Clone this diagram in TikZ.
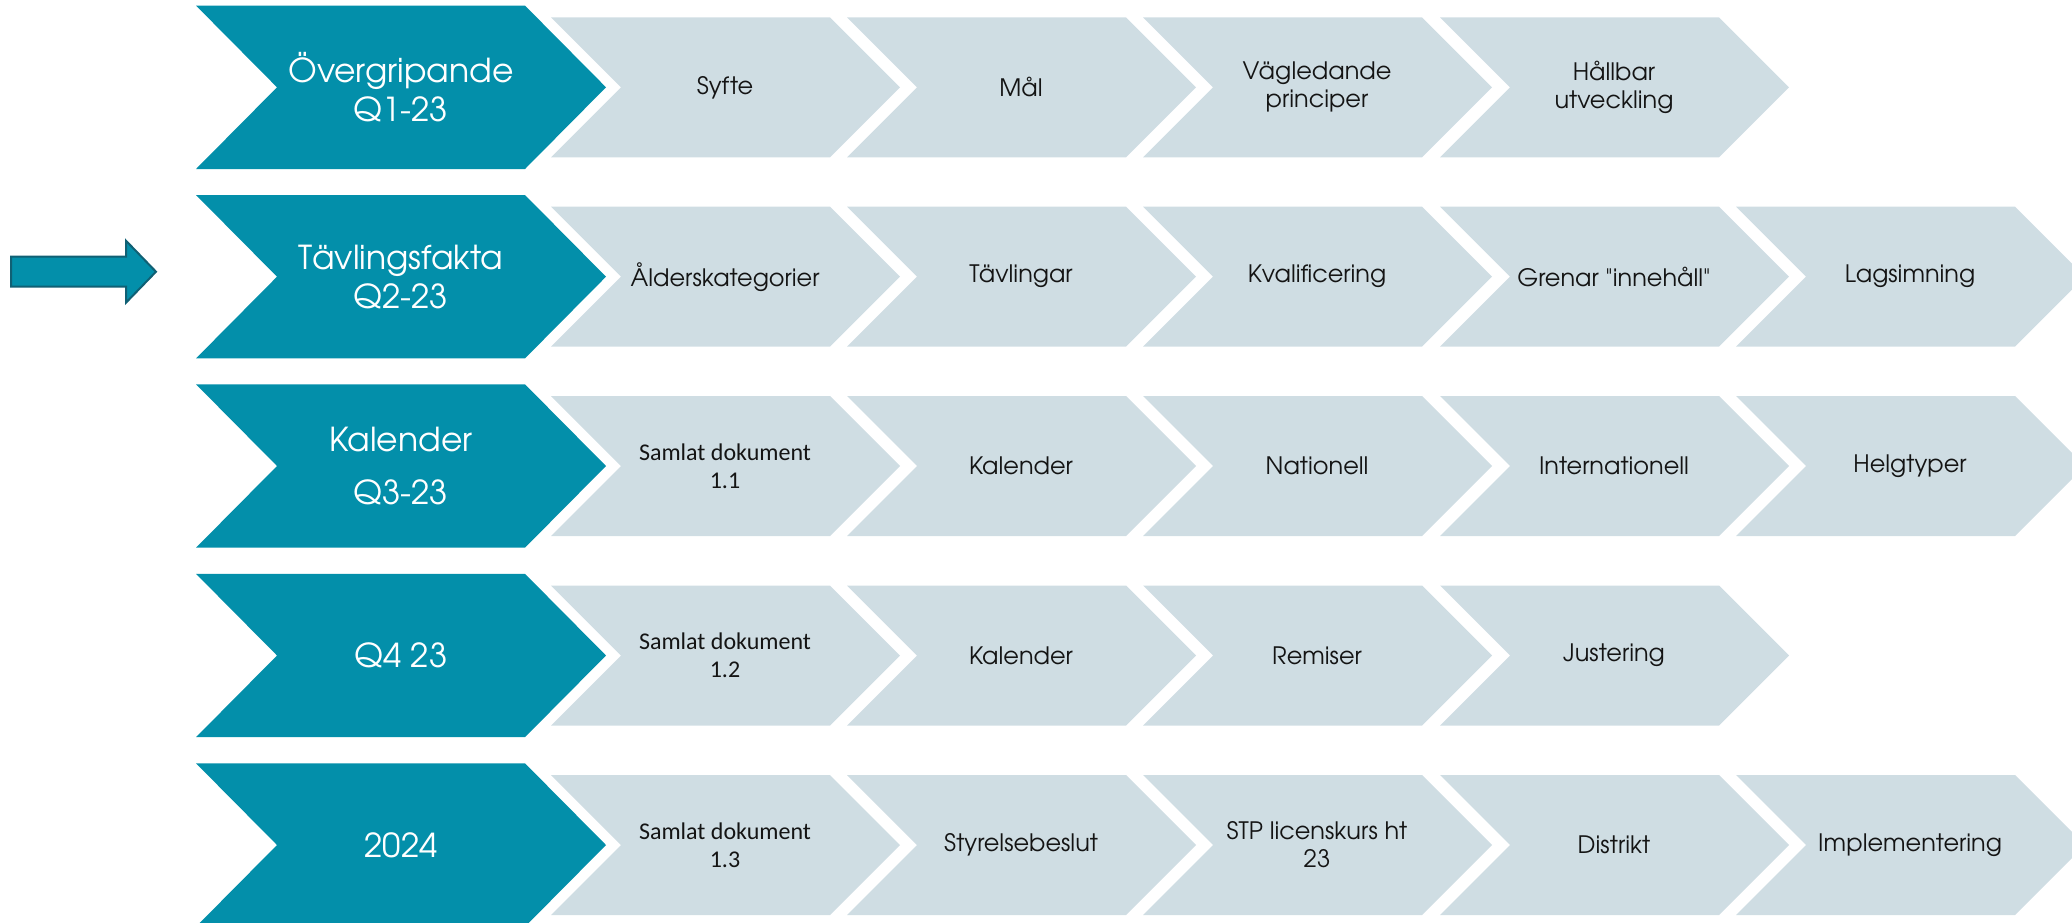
\documentclass[tikz,border=0pt]{standalone}
\usepackage{fontspec}
\setmainfont{TeX Gyre Adventor}
\newfontfamily\calfont{Carlito}
\definecolor{leadteal}{RGB}{3,143,170}
\definecolor{stepgrey}{RGB}{207,221,227}
\definecolor{arrowedge}{RGB}{16,96,116}
\definecolor{inktext}{RGB}{20,20,20}

\tikzset{
  leadtext/.style={text=white, font=\fontsize{16.5}{19.5}\selectfont, align=center, inner sep=0pt},
  leadtextwide/.style={leadtext, font=\fontsize{16.5}{26.5}\selectfont},
  steptext/.style={text=inktext, font=\fontsize{12}{14}\selectfont, align=center, inner sep=0pt},
  doctext/.style={text=inktext, font=\calfont\fontsize{12}{13.8}\selectfont, align=center, inner sep=0pt},
}

% phase chevron: name, centre y, label style, label
\newcommand\leadchevron[4]{%
  \fill[leadteal] (196,#2-81.7) -- (525,#2-81.7) -- (606,#2) -- (525,#2+81.7)
     -- (196,#2+81.7) -- (277,#2) -- cycle;
  \node[#3] (#1) at (401,#2) {#4};
}
% task chevron: name, left x, centre y, label style, label
\newcommand\stepchevron[5]{%
  \fill[stepgrey] (#2,#3-70) -- (#2+279,#3-70) -- (#2+349,#3) -- (#2+279,#3+70)
     -- (#2,#3+70) -- (#2+70,#3) -- cycle;
  \node[#4] (#1) at (#2+174,#3) {#5};
}

\begin{document}
\begin{tikzpicture}[x=0.5pt,y=-0.5pt]
\useasboundingbox (0,0) rectangle (2072,922);
\clip (0,0) rectangle (2072,922);

% row 1
\leadchevron{p1}{87.3}{leadtext}{Övergripande\\Q1-23}
\stepchevron{a1}{551}{87.3}{steptext}{Syfte}
\stepchevron{a2}{847}{87.3}{steptext}{Mål}
\stepchevron{a3}{1143}{87.3}{steptext}{Vägledande\\principer}
\stepchevron{a4}{1440}{87.3}{steptext}{Hållbar\\utveckling}

% row 2
\leadchevron{p2}{276.7}{leadtext}{Tävlingsfakta\\Q2-23}
\stepchevron{b1}{551}{276.7}{steptext}{Ålderskategorier}
\stepchevron{b2}{847}{276.7}{steptext}{Tävlingar}
\stepchevron{b3}{1143}{276.7}{steptext}{Kvalificering}
\stepchevron{b4}{1440}{276.7}{steptext}{Grenar \textquotedbl innehåll\textquotedbl}
\stepchevron{b5}{1736}{276.7}{steptext}{Lagsimning}

% row 3
\leadchevron{p3}{466}{leadtextwide}{Kalender\\Q3-23}
\stepchevron{c1}{551}{466}{doctext}{Samlat dokument\\1.1}
\stepchevron{c2}{847}{466}{steptext}{Kalender}
\stepchevron{c3}{1143}{466}{steptext}{Nationell}
\stepchevron{c4}{1440}{466}{steptext}{Internationell}
\stepchevron{c5}{1736}{466}{steptext}{Helgtyper}

% row 4
\leadchevron{p4}{655.5}{leadtext}{Q4 23}
\stepchevron{d1}{551}{655.5}{doctext}{Samlat dokument\\1.2}
\stepchevron{d2}{847}{655.5}{steptext}{Kalender}
\stepchevron{d3}{1143}{655.5}{steptext}{Remiser}
\stepchevron{d4}{1440}{655.5}{steptext}{Justering}

% row 5
\leadchevron{p5}{845}{leadtext}{2024}
\stepchevron{e1}{551}{845}{doctext}{Samlat dokument\\1.3}
\stepchevron{e2}{847}{845}{steptext}{Styrelsebeslut}
\stepchevron{e3}{1143}{845}{steptext}{STP licenskurs ht\\23}
\stepchevron{e4}{1440}{845}{steptext}{Distrikt}
\stepchevron{e5}{1736}{845}{steptext}{Implementering}

% marker pointing at the current phase
\filldraw[fill=leadteal, draw=arrowedge, line width=1pt]
  (11,256.7) -- (126,256.7) -- (126,240.7) -- (156,271.7) -- (126,302.7)
  -- (126,286.7) -- (11,286.7) -- cycle;
\end{tikzpicture}
\end{document}
